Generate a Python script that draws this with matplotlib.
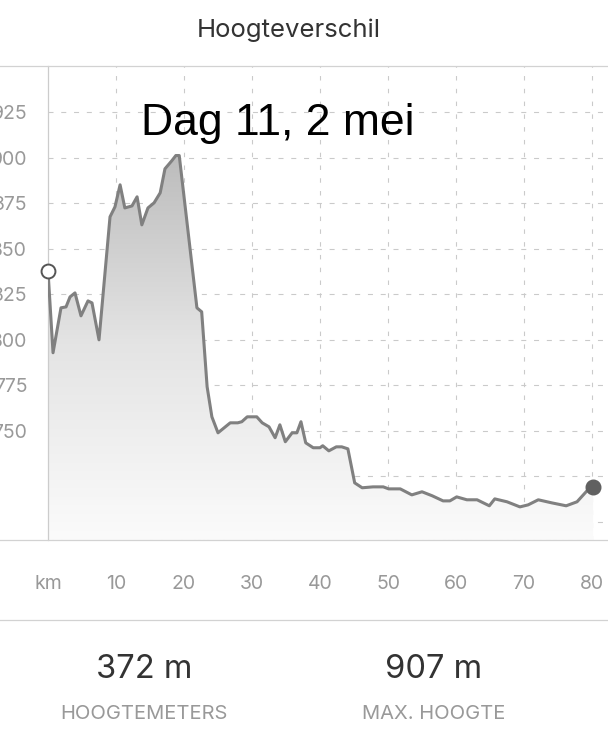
import matplotlib
matplotlib.use('Agg')
import matplotlib.pyplot as plt
import numpy as np
from matplotlib.colors import LinearSegmentedColormap
from matplotlib.lines import Line2D

# afstand (km) en hoogte (m)
km = [0, 0.74, 1.91, 2.65, 3.24, 3.97, 4.85, 5.88, 6.47, 7.5,
      9.12, 9.85, 10.6, 11.3, 12.35, 13.1, 13.8, 14.7, 15.6, 16.5,
      17.2, 18.2, 18.8, 19.3, 21.9, 22.6, 23.4, 24.1, 25.0, 26.8,
      27.9, 28.5, 29.3, 30.7, 31.5, 32.5, 33.4, 34.1, 34.9, 35.9,
      36.6, 37.2, 37.9, 39.0, 40.0, 40.4, 41.3, 42.4, 43.2, 44.1,
      45.1, 46.2, 47.8, 49.3, 50.1, 51.8, 53.5, 55.0, 56.5, 58.1,
      59.1, 60.1, 61.6, 63.1, 64.9, 65.7, 67.5, 69.4, 70.6, 72.1,
      74.1, 76.2, 77.8, 79.4, 80.15]
hoogte = [837.9, 792.9, 817.6, 818.1, 823.6, 825.8, 813.2, 821.4, 820.3, 800.0,
          867.6, 873.1, 885.2, 872.5, 873.6, 878.6, 863.2, 872.5, 875.3, 880.8,
          894.0, 898.4, 901.3, 901.3, 817.6, 815.4, 774.2, 757.7, 748.9, 754.4,
          754.4, 755.0, 757.7, 757.7, 754.4, 752.2, 746.2, 753.3, 744.0, 748.9,
          748.9, 755.0, 743.4, 740.7, 740.7, 741.8, 739.0, 741.2, 741.2, 740.1,
          721.4, 718.7, 719.2, 719.2, 718.1, 718.1, 714.8, 716.5, 714.3, 711.5,
          711.5, 713.7, 712.1, 712.1, 708.8, 712.6, 711.0, 708.2, 709.3, 712.1,
          710.4, 708.8, 711.0, 717.6, 719.2]

x_ticks = [0, 10, 20, 30, 40, 50, 60, 70, 80]
x_labels = ['km', '10', '20', '30', '40', '50', '60', '70', '80']
y_ticks = [700, 725, 750, 775, 800, 825, 850, 875, 900, 925]
y_labels = ['', '', '750', '775', '800', '825', '850', '875', '900', '925']

titel = 'Hoogteverschil'
dag = 'Dag 11, 2 mei'
stats = [('372 m', 'HOOGTEMETERS'), ('907 m', 'MAX. HOOGTE')]

W, H = 608, 742
fig = plt.figure(figsize=(W / 100, H / 100), dpi=100)
fig.patch.set_facecolor('white')

ui_font = ['Inter', 'DejaVu Sans']

# plot area in pixels: x 48..608, y 66..540
ax = fig.add_axes([48 / W, (H - 540) / H, 560 / W, 474 / H])
ax.set_xlim(0, 560 / 6.8)
ax.set_ylim(690, 950.5)

# gradient fill under the line
cmap = LinearSegmentedColormap.from_list('g', ['#fbfbfb', '#e4e4e4', '#bbbbbb'])
grad = np.linspace(0, 1, 256).reshape(-1, 1)
im = ax.imshow(grad, extent=[0, 560 / 6.8, 690, 905], origin='lower',
               aspect='auto', cmap=cmap, zorder=1)
poly = ax.fill_between(km, hoogte, 690, facecolor='none', edgecolor='none')
im.set_clip_path(poly.get_paths()[0], transform=ax.transData)

ax.plot(km, hoogte, color='#808080', lw=2.2, zorder=3,
        solid_joinstyle='round', solid_capstyle='round')
ax.plot(km[0], hoogte[0], 'o', ms=10, mfc='white', mec='#555555', mew=1.4,
        zorder=4, clip_on=False)
ax.plot(km[-1], hoogte[-1], 'o', ms=10.5, mfc='#606060', mec='#606060',
        zorder=4, clip_on=False)

# grid
for yv in y_ticks:
    ax.axhline(yv, color='#cacaca', lw=0.8, dashes=(4.5, 7), zorder=0)
for xv in x_ticks[1:]:
    ax.axvline(xv, color='#cacaca', lw=0.8, dashes=(4, 7.5), zorder=0)

ax.set_xticks(x_ticks)
ax.set_xticklabels(x_labels)
ax.set_yticks(y_ticks)
ax.set_yticklabels(y_labels)
ax.tick_params(axis='both', length=0, colors='#999999', labelsize=14)
ax.tick_params(axis='x', pad=25)
ax.tick_params(axis='y', pad=15)
for lab in ax.get_xticklabels() + ax.get_yticklabels():
    lab.set_family(ui_font)

for side in ['top', 'right', 'bottom']:
    ax.spines[side].set_visible(False)
ax.spines['left'].set_color('#cccccc')
ax.spines['left'].set_linewidth(0.9)

# full-width separator lines
for ypx in [66, 540, 620]:
    yf = 1 - ypx / H
    fig.add_artist(Line2D([0, 1], [yf, yf], color='#d2d2d2', lw=0.9))

fig.text(289 / W, 1 - 30 / H, titel, ha='center', va='center',
         fontsize=18.5, color='#333333', family=ui_font)
fig.text(278 / W, 1 - 123 / H, dag, ha='center', va='center',
         fontsize=32, color='black', family=['Liberation Sans', 'DejaVu Sans'])

for (val, lab), xc in zip(stats, [144, 434]):
    fig.text(xc / W, 1 - 669 / H, val, ha='center', va='center',
             fontsize=23.5, color='#333333', family=ui_font)
    fig.text(xc / W, 1 - 714 / H, lab, ha='center', va='center',
             fontsize=14.5, color='#999999', family=ui_font)

fig.savefig('out.png', dpi=100, facecolor='white')
